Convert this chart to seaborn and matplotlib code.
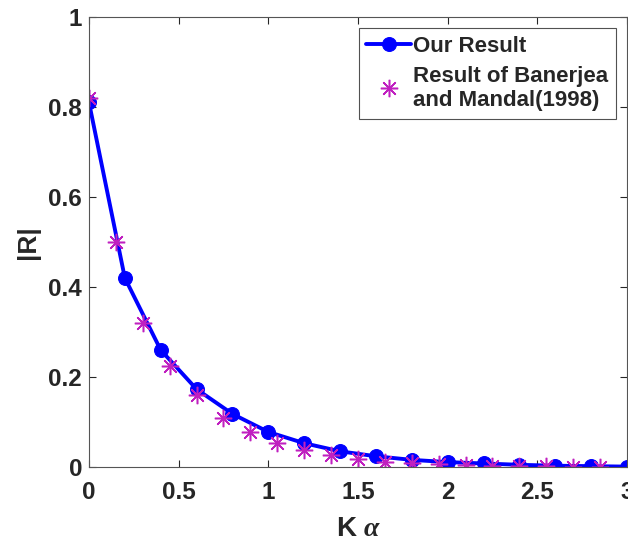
import matplotlib
matplotlib.use("Agg")
import matplotlib.pyplot as plt
import seaborn as sns
import pandas as pd

# Our result (blue circles, solid line)
ka_ours = [0.0, 0.2, 0.4, 0.6, 0.8, 1.0, 1.2, 1.4, 1.6, 1.8, 2.0, 2.2, 2.4, 2.6, 2.8, 3.0]
r_ours = [0.810, 0.420, 0.260, 0.173, 0.118, 0.078, 0.053, 0.035, 0.024, 0.016,
          0.011, 0.008, 0.005, 0.003, 0.002, 0.001]

# Banerjea and Mandal (1998) (magenta asterisks)
ka_ref = [0.0, 0.15, 0.3, 0.45, 0.6, 0.75, 0.9, 1.05, 1.2, 1.35, 1.5, 1.65, 1.8, 1.95,
          2.1, 2.25, 2.4, 2.55, 2.7, 2.85]
r_ref = [0.820, 0.500, 0.320, 0.224, 0.160, 0.110, 0.078, 0.054, 0.038, 0.027, 0.018,
         0.012, 0.008, 0.006, 0.004, 0.003, 0.002, 0.002, 0.001, 0.001]

x_ticks = [0, 0.5, 1, 1.5, 2, 2.5, 3]
x_tick_labels = ["0", "0.5", "1", "1.5", "2", "2.5", "3"]
y_ticks = [0, 0.2, 0.4, 0.6, 0.8, 1.0]
y_tick_labels = ["0", "0.2", "0.4", "0.6", "0.8", "1"]

sns.set_style("ticks", {"xtick.direction": "in", "ytick.direction": "in"})
plt.rcParams["font.family"] = ["Liberation Sans", "DejaVu Sans"]
plt.rcParams["font.weight"] = "bold"
# MATLAB-like label: bold sans K, serif italic alpha
plt.rcParams["mathtext.fontset"] = "custom"
plt.rcParams["mathtext.rm"] = "Liberation Sans"
plt.rcParams["mathtext.bf"] = "Liberation Sans:bold"
plt.rcParams["mathtext.it"] = "Liberation Serif:italic"

df_ours = pd.DataFrame({"ka": ka_ours, "r": r_ours})
df_ref = pd.DataFrame({"ka": ka_ref, "r": r_ref})

fig = plt.figure(figsize=(6.28, 5.45), dpi=100)
ax = fig.add_axes([0.1417, 0.143, 0.8567, 0.826])

sns.lineplot(data=df_ours, x="ka", y="r", ax=ax, color="#0000ff", linewidth=2.8,
             marker="o", markersize=10, markeredgecolor="#0000ff",
             markerfacecolor="#0000ff", label="Our Result")
sns.lineplot(data=df_ref, x="ka", y="r", ax=ax, color="#c020c0", linestyle="",
             marker=(8, 2, 0), markersize=12.5, markeredgecolor="#c020c0",
             markeredgewidth=1.1, label="Result of Banerjea\nand Mandal(1998)")

ax.set_xlim(0, 3)
ax.set_ylim(0, 1)
ax.set_xticks(x_ticks)
ax.set_xticklabels(x_tick_labels)
ax.set_yticks(y_ticks)
ax.set_yticklabels(y_tick_labels)
ax.tick_params(axis="both", labelsize=17.5, colors="#262626", length=5, width=0.8,
               top=True, right=True, labeltop=False, labelright=False)
ax.tick_params(axis="x", pad=10)
ax.tick_params(axis="y", pad=5)
for lbl in ax.get_xticklabels() + ax.get_yticklabels():
    lbl.set_fontweight("bold")
for side in ["top", "right", "left", "bottom"]:
    ax.spines[side].set_visible(True)
    ax.spines[side].set_color("#555555")
    ax.spines[side].set_linewidth(0.8)

ax.set_xlabel(r"$\mathbf{K}\ \alpha$", fontsize=20, fontweight="normal",
              color="#262626", labelpad=9)
ax.set_ylabel("|R|", fontsize=19, fontweight="bold", color="#262626", labelpad=6)

leg = ax.legend(loc="upper right", fontsize=16, frameon=True, fancybox=False,
                edgecolor="#262626", handlelength=2.0, handletextpad=0.1,
                borderpad=0.35, labelspacing=0.4, borderaxespad=0.5)
leg.get_frame().set_linewidth(0.8)
for t in leg.get_texts():
    t.set_fontweight("bold")

fig.savefig("out.png", dpi=100)
